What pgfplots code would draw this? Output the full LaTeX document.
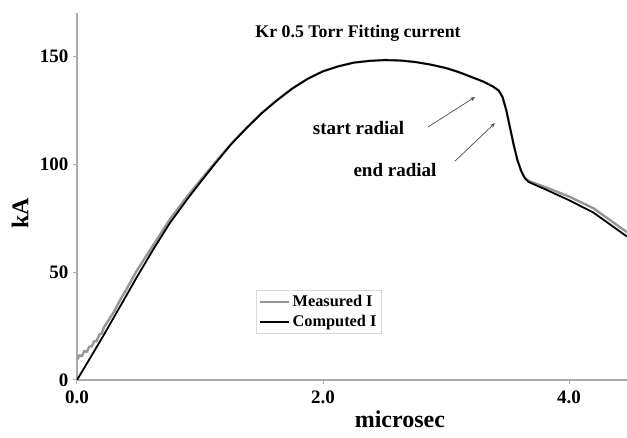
\documentclass[border=0pt]{standalone}
\usepackage{pgfplots}
\pgfplotsset{compat=1.18}
\usetikzlibrary{arrows.meta}
\usepackage{fontspec}
\setmainfont{Liberation Serif}
\definecolor{measgray}{RGB}{150,150,150}
\definecolor{axgray}{RGB}{170,170,170}
\begin{document}
\begin{tikzpicture}
\begin{axis}[
  scale only axis, width=550pt, height=367pt,
  xmin=0, xmax=4.4715, ymin=0, ymax=170,
  axis lines=left, axis line style={axgray, line width=1.3pt, -},
  xtick={0,2,4}, ytick={0,50,100,150},
  xticklabel style={/pgf/number format/fixed, /pgf/number format/fixed zerofill, /pgf/number format/precision=1, yshift=-3pt},
  tick style={axgray, line width=1pt}, tick align=outside, major tick length=4pt,
  /pgf/number format/assume math mode=true,
  ticklabel style={font=\fontsize{19}{19}\selectfont\bfseries},
  yticklabel style={xshift=-1pt},
  xlabel={microsec}, ylabel={kA},
  xlabel style={at={(axis description cs:0.587,0)}, anchor=base, yshift=-48pt, font=\fontsize{24}{24}\selectfont\bfseries},
  ylabel style={at={(axis description cs:-0.1036,0.455)}, anchor=center, font=\fontsize{24}{24}\selectfont\bfseries},
  legend style={at={(axis cs:1.454,41.6)}, anchor=north west, draw=black!15, line width=0.8pt,
    font=\fontsize{16.3}{17}\selectfont\bfseries, inner xsep=3pt, inner ysep=3pt, row sep=3pt},
  legend cell align=left,
  legend image code/.code={\draw[#1] (0pt,0pt) -- (29pt,0pt);},
]
\addplot[measgray, line width=2.4pt, line join=round] coordinates {
(0,9.5) (0.02,11.5) (0.04,11) (0.06,13.5) (0.08,13) (0.10,15.5) (0.12,15.5) (0.14,18) (0.16,18)
(0.18,21) (0.20,21.5) (0.22,24.5) (0.26,28) (0.30,31.5) (0.35,37) (0.40,41.8) (0.485,50.5)
(0.62,62.5) (0.756,74.5) (0.9,85.3) (1.0,92.3) (1.1,99.2) (1.25,109.2) (1.375,116.6) (1.5,123.6)
(1.625,129.6) (1.75,135) (1.875,139.5) (2.0,143) (2.125,145.3) (2.25,147) (2.375,147.8) (2.5,148.2)
(2.625,148) (2.75,147.3) (2.875,146.1) (3.0,144.5) (3.1,142.7) (3.2,140.5) (3.3,138.3) (3.38,136)
(3.43,134) (3.46,131) (3.49,125) (3.52,117) (3.55,109) (3.58,102) (3.61,97) (3.64,93.8) (3.67,92.2)
(3.72,91.2) (3.8,89.5) (4.0,85) (4.2,79.5) (4.47,68.5)
};
\addlegendentry{Measured I}
\addplot[black, line width=1.8pt, line join=round] coordinates {
(0,0) (0.1,9.5) (0.214,20.5) (0.35,34) (0.485,47.5) (0.62,60.5) (0.756,72.8) (0.9,84) (1.0,91.4)
(1.1,98.6) (1.25,109) (1.375,116.5) (1.5,123.5) (1.625,129.5) (1.75,135) (1.875,139.5) (2.0,143)
(2.125,145.3) (2.25,147) (2.375,147.8) (2.5,148.2) (2.625,148) (2.75,147.3) (2.875,146.1) (3.0,144.5)
(3.1,142.7) (3.2,140.5) (3.3,138.3) (3.38,136) (3.43,134) (3.46,131) (3.49,125) (3.52,117) (3.55,109)
(3.58,102) (3.61,97) (3.64,93.5) (3.67,91.8) (3.72,90.5) (3.8,88.5) (4.0,83.3) (4.2,77.5) (4.47,66.5)
};
\addlegendentry{Computed I}
\node[font=\fontsize{17.8}{18}\selectfont\bfseries] at (axis cs:2.285,160.5) {Kr 0.5 Torr Fitting current};
\node[font=\fontsize{19}{19}\selectfont\bfseries] at (axis cs:2.289,116.7) {start radial};
\node[font=\fontsize{19}{19}\selectfont\bfseries] at (axis cs:2.585,97.3) {end radial};
\draw[-{Stealth[length=5pt,width=4pt]}, black!70, line width=0.7pt] (axis cs:2.854,117.2) -- (axis cs:3.236,131.1);
\draw[-{Stealth[length=5pt,width=4pt]}, black!70, line width=0.7pt] (axis cs:3.073,101.4) -- (axis cs:3.398,119.0);
\end{axis}
\pgfresetboundingbox
\path[use as bounding box] (-77pt,-58pt) rectangle (550pt,380pt);
\end{tikzpicture}
\end{document}
